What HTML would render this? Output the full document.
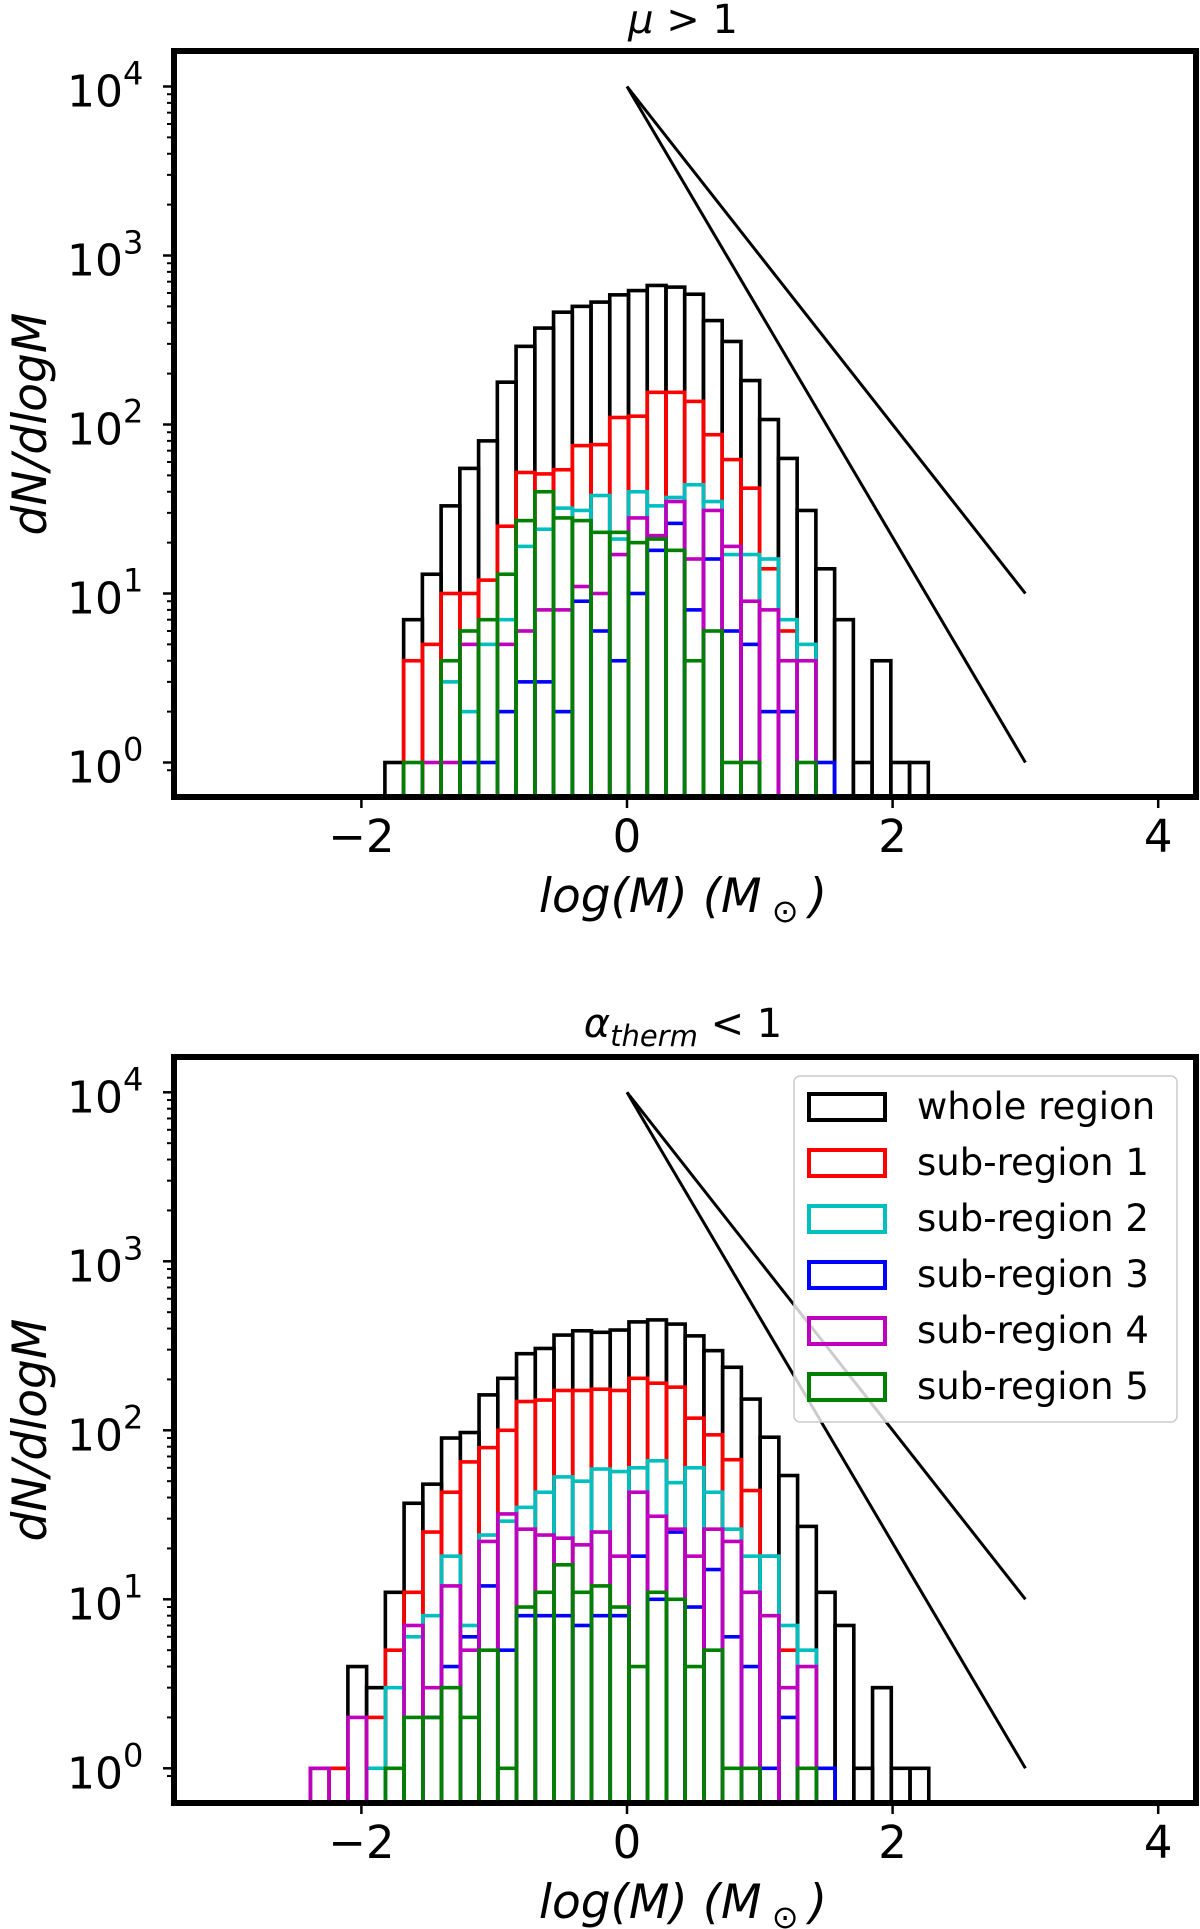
<!DOCTYPE html>
<html><head><meta charset="utf-8"><style>
html,body{margin:0;padding:0;background:#fff;}
svg{display:block;font-family:"DejaVu Sans","Liberation Sans",sans-serif;}
</style></head><body>
<svg id="fig" width="1200" height="1929" viewBox="0 0 1200 1929" xmlns="http://www.w3.org/2000/svg"></svg>
<script>
// ---- Data: top panel (mu > 1), 29 bins ----
const topBinStart = -1.823;
const topBinWidth = 0.1411;
const topWhole = [1,7,13,33,55,80,178,290,372,462,500,530,585,620,665,650,590,412,310,182,107,63,31,14,7,1,4,1,1];
const topSub1  = [0,4,5,10,10,12,25,52,51,54,75,76,110,112,155,155,137,87,62,42,14,6,0,0,0,0,0,0,0];
const topSub2  = [0,0,0,3,2,5,7,19,24,32,31,38,21,40,33,37,44,35,17,17,16,7,5,0,0,0,0,0,0];
const topSub3  = [0,0,0,0,1,1,2,3,3,2,9,6,4,10,18,26,8,16,6,5,2,2,0,1,0,0,0,0,0];
const topSub4  = [0,0,1,1,5,0,5,6,8,8,11,10,17,28,22,35,16,31,19,9,8,4,4,0,0,0,0,0,0];
const topSub5  = [0,1,0,4,6,7,13,27,40,28,27,23,23,20,21,18,4,6,1,1,0,0,1,0,0,0,0,0,0];
// ---- Data: bottom panel (alpha_therm < 1), 33 bins ----
const botBinStart = -2.384;
const botBinWidth = 0.1411;
const botWhole = [1,1,4,3,11,37,48,90,97,162,203,284,305,366,388,380,392,438,450,425,362,296,236,153,91,54,27,11,7,1,3,1,1];
const botSub1  = [0,1,0,2,5,11,25,43,65,79,100,148,151,172,172,175,172,203,190,180,118,94,67,44,18,5,0,0,0,0,0,0,0];
const botSub2  = [0,0,0,1,3,6,8,18,7,24,29,35,43,53,50,59,57,60,66,49,60,43,26,18,18,7,5,0,0,0,0,0,0];
const botSub3  = [0,0,0,0,0,0,2,4,6,12,5,8,8,8,7,8,8,18,10,25,9,15,6,4,1,2,0,1,0,0,0,0,0];
const botSub4  = [1,0,2,0,0,7,3,12,5,22,32,26,24,23,21,25,18,43,31,26,18,26,22,11,8,3,4,0,0,0,0,0,0];
const botSub5  = [0,0,0,0,1,2,2,3,2,5,1,9,11,16,11,12,9,4,11,10,4,5,1,1,0,0,1,0,0,0,0,0,0];
// reference power-law lines: [x0, y0, x1, y1]
const refLine1 = [0, 1e4, 3, 10];
const refLine2 = [0, 1e4, 3, 1];
const xTicks = [-2, 0, 2, 4];
const yTickExps = [0, 1, 2, 3, 4];
const seriesNames = ["whole region","sub-region 1","sub-region 2","sub-region 3","sub-region 4","sub-region 5"];
const seriesColors = ["#000000","#ff0000","#00bfbf","#0000ff","#bf00bf","#008000"];

const NS = "http://www.w3.org/2000/svg";
const svg = document.getElementById('fig');
function mk(tag, attrs, parent){ const e=document.createElementNS(NS,tag); for(const k in attrs) e.setAttribute(k,attrs[k]); (parent||svg).appendChild(e); return e; }

function panel(cfg){
  const L=174, R=1196, T=cfg.top, B=cfg.bottom;
  const x0px=627, xs=132.8;
  const X = v => x0px + v*xs;
  const Y = c => cfg.y0 - Math.log10(c)*169;
  const g = mk('g',{});
  
  
  const cid = 'clip-'+cfg.name;
  const cp = mk('clipPath',{id:cid}, g);
  mk('rect',{x:L,y:T,width:R-L,height:B-T}, cp);
  const plot = mk('g',{'clip-path':'url(#'+cid+')'}, g);
  
  
  cfg.series.forEach((vals,si)=>{
    const sg = mk('g',{fill:'none',stroke:seriesColors[si],'stroke-width':3.6}, plot);
    
    
    vals.forEach((v,k)=>{
      if(v<=0) return;
      const xa = X(cfg.start+k*cfg.width), xb = X(cfg.start+(k+1)*cfg.width);
      const y = Y(v);
      const r = mk('rect',{x:xa,y:y,width:xb-xa,height:(B+10)-y}, sg);
      
      
    });
  });
  [refLine1, refLine2].forEach((ln,i)=>{
    const l = mk('line',{x1:X(ln[0]),y1:Y(ln[1]),x2:X(ln[2]),y2:Y(ln[3]),stroke:'#000','stroke-width':3}, plot);
    
    
  });
  const fr = mk('rect',{x:L,y:T,width:R-L,height:B-T,fill:'none',stroke:'#000','stroke-width':6}, g);
  
  
  xTicks.forEach(t=>{
    mk('line',{x1:X(t),y1:B+3,x2:X(t),y2:B+11,stroke:'#000','stroke-width':2.5}, g);
    const tx = mk('text',{x:X(t),y:B+55,'text-anchor':'middle','font-size':45}, g);
    tx.textContent = (t<0?'\u2212':'')+Math.abs(t);
    
    
  });
  yTickExps.forEach(e=>{
    const y = Y(Math.pow(10,e));
    mk('line',{x1:L-11,y1:y,x2:L-3,y2:y,stroke:'#000','stroke-width':2.5}, g);
    for(let m=2;m<10;m++){
      const ym = Y(m*Math.pow(10,e));
      if(ym>T && ym<B) mk('line',{x1:L-7,y1:ym,x2:L-3,y2:ym,stroke:'#000','stroke-width':2}, g);
    }
    const tx = mk('text',{x:67,y:y+20,'font-size':44}, g);
    tx.textContent = '10';
    
    
    const sp = mk('tspan',{dy:-22,'font-size':32}, tx);
    sp.textContent = String(e);
  });
  const yb = Y(Math.pow(10,-1)*9);
  if(yb<B) mk('line',{x1:L-7,y1:yb,x2:L-3,y2:yb,stroke:'#000','stroke-width':2}, g);
  const xl = mk('text',{x:683,y:B+115,'text-anchor':'middle','font-size':47,'font-style':'italic'}, g);
  xl.textContent = 'log(M) (M';
  
  
  const sun = mk('tspan',{dy:10,'font-size':32,'font-style':'normal'}, xl); sun.textContent=' \u2299 ';
  const cl = mk('tspan',{dy:-10}, xl); cl.textContent=')';
  const cy=(T+B)/2;
  const yl = mk('text',{x:46,y:cy,'text-anchor':'middle','font-size':47,'font-style':'italic',transform:'rotate(-90 46 '+cy+')'}, g);
  yl.textContent = 'dN/dlogM';
  
  
  return g;
}

panel({name:'top-panel', top:51, bottom:797, y0:762.5, start:topBinStart, width:topBinWidth,
  series:[topWhole,topSub1,topSub2,topSub3,topSub4,topSub5]});
panel({name:'bottom-panel', top:1057, bottom:1803, y0:1768.3, start:botBinStart, width:botBinWidth,
  series:[botWhole,botSub1,botSub2,botSub3,botSub4,botSub5]});

const t1 = mk('text',{x:683,y:33,'text-anchor':'middle','font-size':40});


const mu = mk('tspan',{'font-style':'italic'}, t1); mu.textContent='\u03bc';
const r1 = mk('tspan',{}, t1); r1.textContent=' > 1';
const t2 = mk('text',{x:683,y:1037,'text-anchor':'middle','font-size':40});


const al = mk('tspan',{'font-style':'italic'}, t2); al.textContent='\u03b1';
const sb = mk('tspan',{'font-style':'italic','font-size':29,dy:9}, t2); sb.textContent='therm';
const r2 = mk('tspan',{dy:-9}, t2); r2.textContent=' < 1';

const lg = mk('g',{});


mk('rect',{x:794,y:1076,width:383,height:346,rx:6,fill:'#fff','fill-opacity':0.8,stroke:'#cccccc','stroke-width':1.5}, lg);
seriesNames.forEach((n,i)=>{
  const cy = 1107 + i*56;
  const e = mk('g',{}, lg);
  
  
  mk('rect',{x:809,y:cy-13,width:76,height:26,fill:'none',stroke:seriesColors[i],'stroke-width':4}, e);
  const tx = mk('text',{x:917,y:cy+12,'font-size':37}, e);
  tx.textContent = n;
});
</script>
</body></html>
